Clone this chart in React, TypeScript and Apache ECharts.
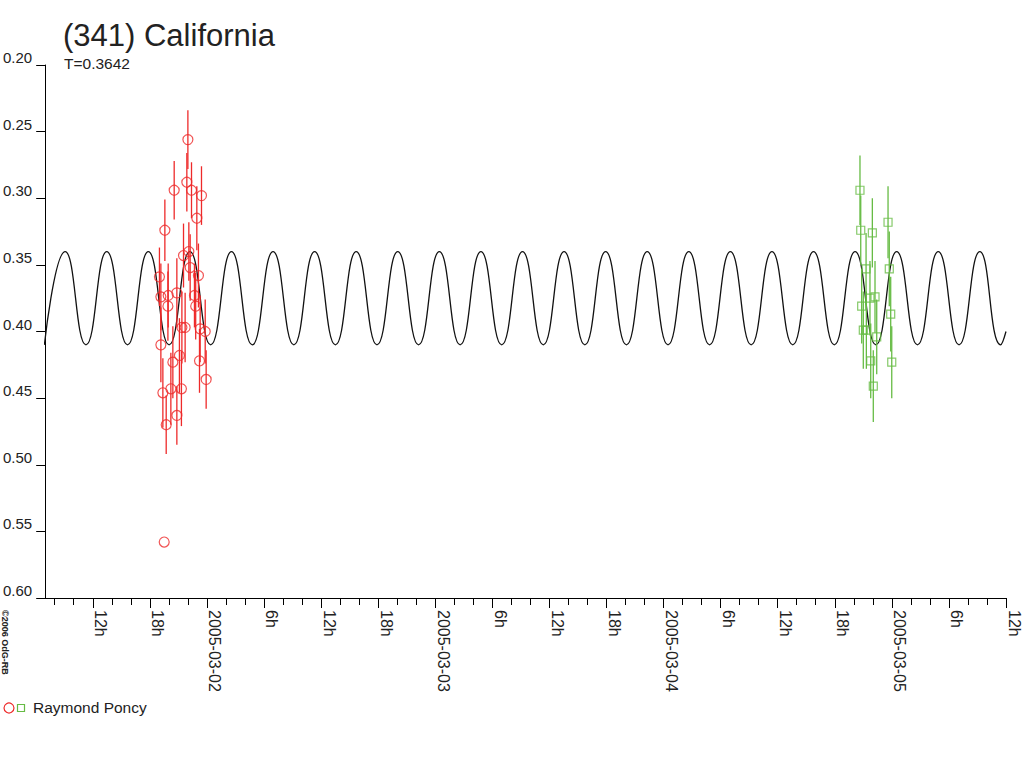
import React, { useEffect, useRef } from "react";
import * as echarts from "echarts";

// Model lightcurve: extrema (hours since 2005-03-01 00:00, magnitude)
const CURVE_T = [
  6.915, 9.1, 11.285, 13.471, 15.656, 17.841, 20.026, 22.211, 24.397, 26.582,
  28.767, 30.952, 33.137, 35.323, 37.508, 39.693, 41.878, 44.063, 46.249, 48.434,
  50.619, 52.804, 54.989, 57.175, 59.36, 61.545, 63.73, 65.915, 68.101, 70.286,
  72.471, 74.656, 76.841, 79.027, 81.212, 83.397, 85.582, 87.767, 89.953, 92.138,
  94.323, 96.508, 98.693, 100.879, 103.064, 105.249, 107.434, 108,
];
const CURVE_MAG = [
  0.41, 0.34, 0.41, 0.34, 0.41, 0.34, 0.41, 0.34, 0.41, 0.34,
  0.41, 0.34, 0.41, 0.34, 0.41, 0.34, 0.41, 0.34, 0.41, 0.34,
  0.41, 0.34, 0.41, 0.34, 0.41, 0.34, 0.41, 0.34, 0.41, 0.34,
  0.41, 0.34, 0.41, 0.34, 0.41, 0.34, 0.41, 0.34, 0.41, 0.34,
  0.41, 0.34, 0.41, 0.34, 0.41, 0.34, 0.41, 0.4,
];

// Session 1 (red circles)
const R_T = [
  22.0, 21.89, 20.56, 22.38, 23.43, 22.94, 19.58, 22.1, 21.54, 22.24, 19.01,
  23.11, 19.16, 19.93, 20.84, 22.69, 19.9, 22.82, 21.37, 21.71, 23.29, 23.82,
  19.16, 20.42, 21.11, 23.22, 23.92, 19.37, 20.21, 21.32, 19.72, 20.84, 19.51,
];
const R_MAG = [
  0.256, 0.288, 0.294, 0.294, 0.298, 0.315, 0.324, 0.34, 0.343, 0.352, 0.359,
  0.358, 0.374, 0.373, 0.371, 0.373, 0.381, 0.381, 0.397, 0.397, 0.398, 0.4,
  0.41, 0.423, 0.418, 0.422, 0.436, 0.446, 0.443, 0.443, 0.47, 0.463, 0.558,
];
const R_ERR = [
  0.022, 0.022, 0.022, 0.021, 0.022, 0.024, 0.023, 0.022, 0.024, 0.025, 0.022,
  0.024, 0.025, 0.024, 0.026, 0.024, 0.026, 0.025, 0.027, 0.026, 0.025, 0.024,
  0.028, 0.027, 0.028, 0.024, 0.022, 0.026, 0.027, 0.028, 0.022, 0.022, 0,
];

// Session 2 (green squares)
const G_T = [
  92.65, 92.73, 93.95, 95.6, 93.29, 95.73, 94.23, 93.7, 92.83, 95.88, 93.0,
  93.32, 94.41, 93.78, 95.99, 94.05,
];
const G_MAG = [
  0.294, 0.324, 0.326, 0.318, 0.353, 0.353, 0.374, 0.375, 0.381, 0.387, 0.399,
  0.399, 0.404, 0.422, 0.423, 0.441,
];
const G_ERR = [
  0.026, 0.026, 0.026, 0.027, 0.027, 0.028, 0.027, 0.028, 0.028, 0.028, 0.029,
  0.029, 0.028, 0.028, 0.027, 0.027,
];

const X_MIN = 7;
const X_MAX = 108;
const MAJOR_TICKS = [12, 18, 24, 30, 36, 42, 48, 54, 60, 66, 72, 78, 84, 90, 96, 102, 108];
const MINOR_TICKS = [
  8, 10, 14, 16, 20, 22, 26, 28, 32, 34, 38, 40, 44, 46, 50, 52, 56, 58, 62, 64,
  68, 70, 74, 76, 80, 82, 86, 88, 92, 94, 98, 100, 104, 106,
];
const DATE_LABELS = ["2005-03-01", "2005-03-02", "2005-03-03", "2005-03-04", "2005-03-05"];

const TITLE = "(341) California";
const SUBTITLE = "T=0.3642";
const OBSERVER = "Raymond Poncy";
const COPYRIGHT = "©2006 OdG-RB";

const RED = "#ee2a2a";
const GREEN = "#66bb44";
const FONT = "Liberation Sans, Arial, sans-serif";

function errorSeries(ts: number[], mags: number[], errs: number[], color: string) {
  return {
    type: "custom",
    clip: true,
    data: ts.map((t, i) => [t, mags[i] - errs[i], mags[i] + errs[i]]),
    encode: { x: 0, y: [1, 2] },
    renderItem: (params: any, api: any) => {
      const t = api.value(0);
      const p1 = api.coord([t, api.value(1)]);
      const p2 = api.coord([t, api.value(2)]);
      return {
        type: "line",
        shape: { x1: p1[0], y1: p1[1], x2: p2[0], y2: p2[1] },
        style: { stroke: color, lineWidth: 1.3 },
      };
    },
    z: 3,
  };
}

export default function App() {
  const ref = useRef<HTMLDivElement>(null);
  useEffect(() => {
    document.body.style.margin = "0";
    if (!ref.current) return;
    const chart = echarts.init(ref.current, undefined, { renderer: "svg" });
    const option: any = {
      animation: false,
      backgroundColor: "#ffffff",
      grid: { left: 45, right: 18, top: 65, bottom: 170, containLabel: false },
      xAxis: [
        {
          type: "value",
          min: X_MIN,
          max: X_MAX,
          position: "bottom",
          axisLine: { show: true, onZero: false, lineStyle: { color: "#000", width: 1 } },
          axisTick: { show: true, customValues: MAJOR_TICKS, length: 10, lineStyle: { color: "#000" } },
          axisLabel: {
            show: true,
            customValues: MAJOR_TICKS,
            rotate: -90,
            margin: 12,
            verticalAlign: "bottom",
            fontSize: 16,
            fontFamily: FONT,
            color: "#222",
            formatter: (v: number) => {
              const h = Math.round(v) % 24;
              if (h === 0) return DATE_LABELS[Math.round(v) / 24];
              return h + "h";
            },
          },
          splitLine: { show: false },
        },
        {
          type: "value",
          min: X_MIN,
          max: X_MAX,
          position: "bottom",
          axisLine: { show: false },
          axisTick: { show: true, customValues: MINOR_TICKS, length: 7, lineStyle: { color: "#000" } },
          axisLabel: { show: false },
          splitLine: { show: false },
        },
      ],
      yAxis: {
        type: "value",
        inverse: true,
        min: 0.2,
        max: 0.6,
        interval: 0.05,
        axisLine: { show: true, lineStyle: { color: "#000", width: 1 } },
        axisTick: { show: true, length: 9, lineStyle: { color: "#000" } },
        axisLabel: {
          margin: 13,
          verticalAlign: "bottom",
          fontSize: 15,
          fontFamily: FONT,
          color: "#222",
          formatter: (v: number) => v.toFixed(2),
        },
        splitLine: { show: false },
      },
      series: [
        {
          type: "line",
          data: CURVE_T.map((t, i) => [t, CURVE_MAG[i]]),
          smooth: true,
          showSymbol: false,
          clip: true,
          lineStyle: { color: "#111", width: 1.3 },
          z: 2,
        },
        errorSeries(R_T, R_MAG, R_ERR, RED),
        errorSeries(G_T, G_MAG, G_ERR, GREEN),
        {
          type: "scatter",
          data: R_T.map((t, i) => [t, R_MAG[i]]),
          symbol: "circle",
          symbolSize: 10,
          itemStyle: { color: "rgba(0,0,0,0)", borderColor: RED, borderWidth: 1.2 },
          z: 4,
        },
        {
          type: "scatter",
          data: G_T.map((t, i) => [t, G_MAG[i]]),
          symbol: "rect",
          symbolSize: 8,
          itemStyle: { color: "rgba(0,0,0,0)", borderColor: GREEN, borderWidth: 1.2 },
          z: 4,
        },
      ],
      graphic: [
        {
          type: "text",
          x: 63,
          y: 19.5,
          style: { text: TITLE, font: `31px ${FONT}`, fill: "#222", align: "left", verticalAlign: "top" },
        },
        {
          type: "text",
          x: 64,
          y: 55,
          style: { text: SUBTITLE, font: `15.5px ${FONT}`, fill: "#222", align: "left", verticalAlign: "top" },
        },
        {
          type: "circle",
          shape: { cx: 9, cy: 708, r: 5 },
          style: { fill: "none", stroke: RED, lineWidth: 1.2 },
        },
        {
          type: "rect",
          shape: { x: 17.5, y: 704.5, width: 7, height: 7 },
          style: { fill: "none", stroke: GREEN, lineWidth: 1.2 },
        },
        {
          type: "text",
          x: 33,
          y: 699.5,
          style: { text: OBSERVER, font: `15.5px ${FONT}`, fill: "#222", align: "left", verticalAlign: "top" },
        },
        {
          type: "text",
          x: 0.5,
          y: 610,
          rotation: -Math.PI / 2,
          style: {
            text: COPYRIGHT,
            font: `bold 9px ${FONT}`,
            fill: "#222",
            align: "left",
            verticalAlign: "bottom",
          },
        },
      ],
    };
    chart.setOption(option);
    return () => chart.dispose();
  }, []);
  return <div ref={ref} style={{ width: 1024, height: 768 }} />;
}
